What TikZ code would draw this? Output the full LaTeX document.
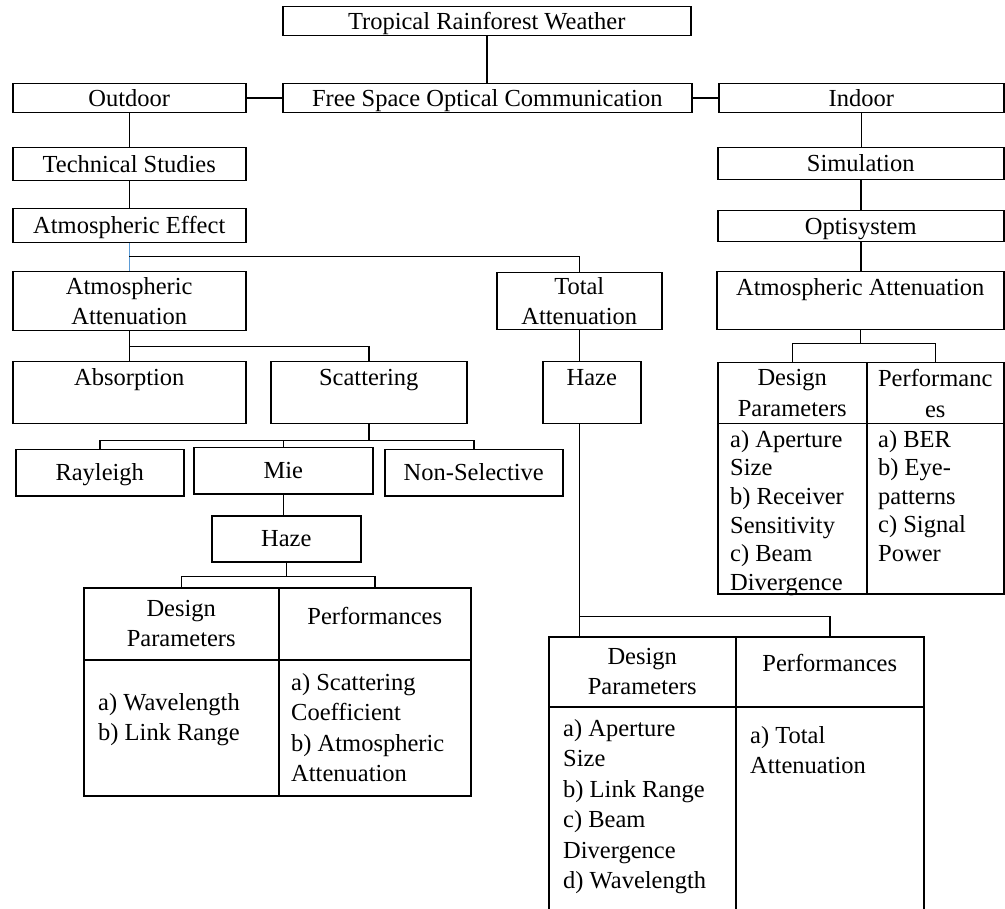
\documentclass[tikz,border=0pt]{standalone}
\usepackage{fontspec}
\setmainfont{Liberation Serif}
\usepackage{tikz}
\usetikzlibrary{positioning}
\definecolor{linkblue}{RGB}{91,155,213}
\newcommand{\boxfont}{\fontsize{24.5}{30.5}\selectfont}
\newcommand{\tightfont}{\fontsize{24.5}{28.6}\selectfont}
\tikzset{
  block/.style={draw=black,line width=1.5pt,rectangle,inner sep=0pt,anchor=north west,align=center,font=\boxfont},
  textat/.style 2 args={text height=#1,text depth=#2},
  oneline/.style={text height=18pt,text depth=2pt},
  entry/.style={inner sep=0pt,align=left,font=\boxfont},
  link/.style={draw=black,line width=1.5pt}
}

\begin{document}
\begin{tikzpicture}[x=1pt,y=-1pt]
  \useasboundingbox (0,0) rectangle (1005,909);
  % top levels
  \node[block,oneline,minimum width=408pt,minimum height=29pt] (trw) at (282,6) {Tropical Rainforest Weather};
  \node[block,oneline,minimum width=233pt,minimum height=29pt] (outd) at (12,83) {Outdoor};
  \node[block,oneline,minimum width=409pt,minimum height=29pt] (fso) at (282,83) {Free Space Optical Communication};
  \node[block,oneline,minimum width=285pt,minimum height=29pt] (ind) at (718,83) {Indoor};
  \node[block,oneline,minimum width=233pt,minimum height=33pt] (tech) at (12,147) {Technical Studies};
  \node[block,oneline,minimum width=286pt,minimum height=32pt] (sim) at (717,147) {Simulation};
  \node[block,oneline,minimum width=233pt,minimum height=34pt] (atme) at (12,208) {Atmospheric Effect};
  \node[block,oneline,minimum width=286pt,minimum height=31pt] (opti) at (717,210) {Optisystem};
  \node[block,minimum width=233pt,minimum height=59pt] (aal) at (12,271) {Atmospheric\\Attenuation};
  \node[block,minimum width=165pt,minimum height=57pt] (tot) at (496,272) {Total\\Attenuation};
  \node[block,minimum width=287pt,textat={24pt}{34pt}] (aar) at (716,271) {Atmospheric Attenuation};
  % outdoor branch
  \node[block,minimum width=233pt,textat={24pt}{38pt}] (absn) at (12,361) {Absorption};
  \node[block,minimum width=196pt,textat={24pt}{38pt}] (scat) at (270,361) {Scattering};
  \node[block,minimum width=98pt,textat={24pt}{38pt}] (hazr) at (542,361) {Haze};
  \node[block,oneline,minimum width=168pt,minimum height=46pt] (ray) at (15,449) {Rayleigh};
  \node[block,oneline,minimum width=179pt,minimum height=46pt] (mie) at (193,447) {Mie};
  \node[block,oneline,minimum width=178pt,minimum height=46pt] (nsel) at (384,449) {Non-Selective};
  \node[block,oneline,minimum width=149pt,minimum height=46pt] (hazl) at (211,515) {Haze};
  % indoor table
  \node[block,minimum width=149pt,minimum height=61pt] (rdh) at (717,362) {Design\\Parameters};
  \node[block,minimum width=137pt,minimum height=61pt] (rph) at (866,362) {Performanc\\es};
  \node[block,minimum width=149pt,minimum height=170pt] (rdb) at (717,423) {};
  \node[block,minimum width=137pt,minimum height=170pt] (rpb) at (866,423) {};
  \node[entry,font=\tightfont,below right=7pt and 13pt of rdb.north west] (rdl)
    {a) Aperture\\Size\\b) Receiver\\Sensitivity\\c) Beam\\Divergence};
  \node[entry,font=\tightfont,below right=7pt and 12pt of rpb.north west] (rpl)
    {a) BER\\b) Eye-\\patterns\\c) Signal\\Power};
  % haze table (mie)
  \node[block,minimum width=195pt,minimum height=72pt] (ldh) at (83,587) {Design\\Parameters};
  \node[block,minimum width=192pt,textat={37pt}{35pt}] (lph) at (278,587) {Performances};
  \node[block,minimum width=195pt,minimum height=136pt] (ldb) at (83,659) {};
  \node[block,minimum width=192pt,minimum height=136pt] (lpb) at (278,659) {};
  \node[entry,below right=34pt and 15pt of ldb.north west] (ldl)
    {a) Wavelength\\b) Link Range};
  \node[entry,below right=14pt and 13pt of lpb.north west] (lpl)
    {a) Scattering\\Coefficient\\b) Atmospheric\\Attenuation};
  % haze table (total attenuation)
  \node[block,minimum width=187pt,minimum height=70pt] (bdh) at (548,636) {Design\\Parameters};
  \node[block,minimum width=188pt,textat={35pt}{35pt}] (bph) at (735,636) {Performances};
  \node[block,minimum width=187pt,minimum height=210pt] (bdb) at (548,706) {};
  \node[block,minimum width=188pt,minimum height=210pt] (bpb) at (735,706) {};
  \node[entry,below right=13pt and 15pt of bdb.north west] (bdl)
    {a) Aperture\\Size\\b) Link Range\\c) Beam\\Divergence\\d) Wavelength};
  \node[entry,below right=20pt and 15pt of bpb.north west] (bpl)
    {a) Total\\Attenuation};

  % connectors
  \draw[link] (trw.south) -- (trw.south |- fso.north);
  \draw[link] (outd) -- (fso);
  \draw[link] (fso) -- (ind);
  \draw[link] (outd) -- (tech);
  \draw[link] (tech) -- (atme);
  \draw[link] (ind.south) -- (ind.south |- sim.north);
  \draw[link] (sim.south) -- (sim.south |- opti.north);
  \draw[link] (opti.south) -- (opti.south |- aar.north);
  \draw[link,draw=linkblue] (atme.south) -- (aal.north);
  \draw[link] (atme.south) ++(0,13) -| (tot.north);
  \draw[link] (aal) -- (absn);
  \draw[link] (aal.south) ++(0,15) -| (scat.north);
  \draw[link] (scat.south) -- ++(0,16) coordinate (sbus);
  \draw[link] (sbus) -| (ray.north);
  \draw[link] (sbus) -| (mie.north);
  \draw[link] (sbus) -| (nsel.north);
  \draw[link] (mie.south) -- (mie.south |- hazl.north);
  \draw[link] (hazl.south) -- ++(0,14) coordinate (hbus);
  \draw[link] (hbus) -| (ldh.north);
  \draw[link] (hbus) -| (lph.north);
  \draw[link] (tot.south) -- (tot.south |- hazr.north);
  \draw[link] (hazr.south -| tot.south) -- ++(0,192) coordinate (tbus);
  \draw[link] (tbus) -- (tbus |- bdh.north);
  \draw[link] (tbus) -| (bph.north);
  \draw[link] (aar.south) -- ++(0,13) coordinate (rbus);
  \draw[link] (rbus) -| (rdh.north);
  \draw[link] (rbus) -| (rph.north);
\end{tikzpicture}
\end{document}
